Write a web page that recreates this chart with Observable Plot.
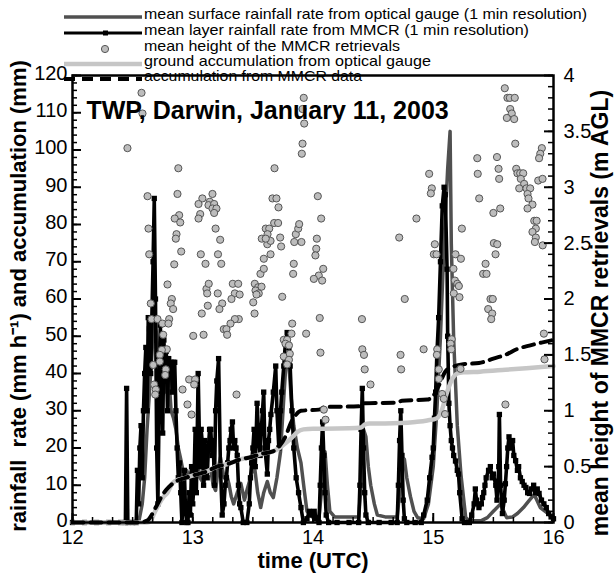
<!DOCTYPE html>
<html><head><meta charset="utf-8">
<script src="https://cdn.jsdelivr.net/npm/d3@7"></script>
<script src="https://cdn.jsdelivr.net/npm/@observablehq/plot@0.6"></script>
<style>
body{margin:0;background:#fff;}
#wrap{position:relative;width:614px;height:576px;overflow:hidden;font-family:"Liberation Sans",Arial,sans-serif;}
#legend{position:absolute;left:0;top:0;z-index:0;}
#chart{position:absolute;left:0;top:0;z-index:1;}
</style></head><body>
<div id="wrap"><svg id="legend" width="614" height="100"></svg><div id="chart"></div></div>
<script>
// ---------- data (time in UTC hours) ----------
const title = "TWP, Darwin, January 11, 2003";
const xLabel = "time (UTC)";
const yLabel = "rainfall  rate (mm h\u207B\u00B9) and accumulation (mm)";
const y2Label = "mean height of MMCR retrievals (m AGL)";
const legendLabels = [
  "mean surface rainfall rate from optical gauge (1 min resolution)",
  "mean layer rainfall rate from MMCR  (1 min resolution)",
  "mean height of the MMCR retrievals",
  "ground accumulation from optical gauge",
  "accumulation from MMCR data"
];
const xTicks = [12, 13, 14, 15, 16];
const yTicks = d3.range(0, 121, 10);
const yMinor = d3.range(0, 121, 2);
const hTicks = [0, 0.5, 1, 1.5, 2, 2.5, 3, 3.5, 4];
const hMinor = d3.range(0, 41, 1).map(d => d / 10);
const xMinor = d3.range(0, 25, 1).map(d => 12 + d / 6);

const mmcrRate = [
[12.00,0],[12.10,0],[12.20,0],[12.30,0],[12.40,0],[12.44,0],[12.45,36],[12.46,0],[12.50,0],[12.53,0],
[12.54,14],[12.55,5],[12.56,20],[12.57,26],[12.58,12],[12.59,30],[12.60,40],[12.61,47],[12.62,30],[12.63,55],
[12.64,52],[12.65,40],[12.66,55],[12.67,70],[12.68,87],[12.69,60],[12.70,20],[12.71,5],[12.72,30],[12.73,53],
[12.74,45],[12.75,24],[12.76,49],[12.77,40],[12.78,46],[12.79,30],[12.80,44],[12.81,40],[12.82,43],[12.83,35],
[12.84,43],[12.85,43],[12.86,30],[12.87,20],[12.88,12],[12.89,16],[12.90,8],[12.91,0],[12.92,5],[12.93,14],
[12.94,3],[12.95,0],[12.96,0],[12.97,8],[12.98,2],[12.99,15],[13.00,5],[13.01,10],[13.02,25],[13.03,8],
[13.045,40],[13.06,15],[13.07,25],[13.08,21],[13.09,10],[13.10,22],[13.11,18],[13.12,12],[13.13,20],[13.14,25],
[13.15,25],[13.16,18],[13.17,22],[13.18,10],[13.19,30],[13.20,38],[13.215,44],[13.23,15],[13.245,2],[13.26,5],
[13.27,10],[13.28,12],[13.29,16],[13.30,20],[13.31,22],[13.32,25],[13.33,27],[13.34,20],[13.35,22],[13.36,20],
[13.37,18],[13.38,10],[13.39,5],[13.40,4],[13.42,0],[13.45,0],[13.47,5],[13.48,12],[13.49,16],[13.50,20],
[13.51,25],[13.52,15],[13.535,32],[13.55,22],[13.56,18],[13.57,25],[13.58,30],[13.59,35],[13.60,20],[13.62,13],
[13.63,22],[13.64,25],[13.65,29],[13.67,35],[13.69,42],[13.70,30],[13.716,20],[13.73,30],[13.74,35],[13.757,42],
[13.77,48],[13.785,51],[13.80,47],[13.81,42],[13.825,30],[13.84,20],[13.86,12],[13.88,8],[13.90,4],[13.92,0],
[13.95,1],[13.97,3],[13.99,2],[14.01,3],[14.03,1],[14.05,0],[14.06,10],[14.07,20],[14.08,27],[14.09,18],
[14.10,8],[14.11,2],[14.13,0],[14.20,0],[14.30,0],[14.38,0],[14.39,10],[14.40,25],[14.41,36],[14.42,20],
[14.43,8],[14.44,2],[14.46,0],[14.55,0],[14.65,0],[14.70,0],[14.71,10],[14.72,22],[14.73,30],[14.74,18],
[14.75,6],[14.76,1],[14.78,0],[14.85,0],[14.90,0],[14.92,2],[14.95,6],[14.97,12],[14.99,17.5],[15.00,20],
[15.01,28],[15.02,35],[15.03,45],[15.045,55],[15.06,70],[15.075,85],[15.09,90],[15.10,88],[15.115,68],[15.12,50],
[15.13,32],[15.14,26],[15.15,22],[15.16,20],[15.17,18],[15.185,16.5],[15.20,14],[15.21,13],[15.22,8],[15.24,1],
[15.26,0],[15.30,0],[15.32,2],[15.34,5],[15.35,9],[15.36,6],[15.38,4],[15.40,5],[15.41,6.7],[15.42,8],
[15.43,10],[15.44,12],[15.46,14],[15.475,15],[15.49,12],[15.50,13],[15.52,10],[15.53,6],[15.545,15],[15.55,29],
[15.56,10],[15.575,2.4],[15.59,6],[15.60,10.4],[15.61,15],[15.62,20],[15.63,23],[15.64,21],[15.65,20],[15.66,22],
[15.67,18],[15.685,16.6],[15.70,14],[15.71,15],[15.725,12],[15.74,11],[15.755,10],[15.77,9.4],[15.785,8],[15.80,7.8],
[15.815,9],[15.835,10],[15.85,8],[15.865,9],[15.88,7.8],[15.90,6],[15.92,5],[15.94,4],[15.96,2.4],[15.98,1.5],[16.00,1]
];

const gaugeRate = [
[12.00,0],[12.55,0],[12.58,5],[12.60,12],[12.62,25],[12.64,35],[12.66,45],[12.68,57],[12.70,50],[12.72,42],
[12.74,48],[12.76,38],[12.78,35],[12.80,40],[12.82,30],[12.84,28],[12.86,25],[12.88,20],[12.90,17],[12.93,12],
[12.95,14],[12.97,12],[13.00,15],[13.02,13],[13.04,16],[13.06,12],[13.09,10.5],[13.12,14],[13.15,14],[13.17,10],
[13.19,8.6],[13.21,14],[13.23,17.5],[13.26,12],[13.28,13],[13.30,10.5],[13.32,7],[13.34,5],[13.37,8],[13.40,10.5],
[13.43,6],[13.45,8.6],[13.48,12],[13.51,16],[13.54,8],[13.565,4],[13.59,8],[13.62,11],[13.645,8],[13.67,6.7],
[13.70,12],[13.73,19],[13.76,35],[13.78,45],[13.80,42],[13.82,33],[13.84,26],[13.87,20],[13.90,16],[13.93,8],
[13.95,3],[14.00,1.3],[14.05,1.5],[14.07,8],[14.10,19],[14.12,10],[14.14,3],[14.18,1.5],[14.30,1.5],[14.38,1.5],
[14.40,10],[14.42,25],[14.44,23],[14.46,15],[14.48,10],[14.51,5],[14.535,2],[14.60,1.5],[14.70,1.5],[14.72,8],
[14.74,15],[14.76,17],[14.78,12],[14.81,7],[14.84,3],[14.87,1.3],[14.92,1],[14.96,5],[15.00,15],[15.03,30],
[15.06,50],[15.09,75],[15.12,95],[15.14,105],[15.15,75],[15.17,49],[15.20,26],[15.23,13],[15.27,1.3],[15.30,0.5],
[15.40,0.5],[15.45,1.3],[15.50,3],[15.56,5],[15.61,1.3],[15.66,1.5],[15.70,2.4],[15.75,4],[15.80,6],[15.84,7.5],
[15.89,4],[15.95,2.5],[16.00,1.5]
];

const gaugeAccum = [
[12.00,0],[12.62,0],[12.65,0.5],[12.68,2.5],[12.72,5],[12.76,7],[12.79,8],[12.83,10.5],[12.88,11.5],[12.94,12],
[13.02,12.8],[13.10,13.5],[13.20,15],[13.30,15.8],[13.40,17],[13.48,17.5],[13.58,18.5],[13.66,19],[13.72,20],[13.78,21.5],
[13.83,23],[13.87,24.3],[13.92,25],[14.00,25.2],[14.10,25.2],[14.30,25.3],[14.40,25.5],[14.43,26.3],[14.47,26.6],[14.60,26.6],
[14.73,26.7],[14.85,27],[14.95,27.4],[15.03,28],[15.07,30],[15.11,34.5],[15.15,38],[15.20,40],[15.25,40.3],[15.39,40.5],
[15.60,41],[15.80,41.5],[16.00,42]
];

const mmcrAccum = [
[12.00,0],[12.55,0],[12.62,0.5],[12.70,4.5],[12.75,7.5],[12.80,9.5],[12.87,11.2],[12.94,12],[13.02,12.8],[13.10,13.5],
[13.20,15],[13.30,15.8],[13.40,17],[13.48,17.5],[13.58,18.5],[13.66,19],[13.72,20.5],[13.77,23],[13.82,27],[13.86,29],
[13.90,30],[14.05,30.3],[14.10,31],[14.40,31.2],[14.43,32],[14.70,32.2],[14.74,32.7],[14.95,33],[15.00,34],[15.05,37],
[15.10,40.5],[15.15,41.6],[15.25,42.5],[15.38,42.8],[15.50,44],[15.60,45],[15.70,46.6],[15.80,47.5],[15.90,48.3],[16.00,49]
];

// mean height of MMCR retrievals [time, km]
const heightPts = [
[12.457,3.35],[12.574,3.845],[12.582,3.66],[12.624,2.92],[12.632,2.63],[12.638,2.40],[12.651,1.96],[12.657,1.82],[12.707,1.82],[12.748,1.78],
[12.804,1.82],[12.798,1.78],[12.754,1.68],[12.784,1.55],[12.743,1.545],[12.726,1.50],[12.671,1.41],[12.726,1.44],[12.776,1.37],[12.771,1.32],
[12.679,1.235],[12.693,1.19],[12.688,1.145],[12.79,2.13],[12.826,2.00],[12.817,1.96],[12.837,1.91],[12.846,2.31],[12.904,2.425],[12.88,3.17],
[12.873,2.94],[12.887,2.75],[12.85,2.72],[12.896,2.685],[12.865,2.58],[12.859,2.54],[12.97,1.28],[13.02,1.28],[13.012,1.235],[12.915,1.19],
[12.956,1.056],[12.99,0.966],[13.004,1.67],[13.067,2.40],[13.075,1.87],[13.106,2.315],[13.114,2.09],[13.133,2.136],[13.12,2.05],[13.125,1.94],
[13.09,1.68],[13.08,2.90],[13.048,2.85],[13.062,2.76],[13.048,2.72],[13.164,2.94],[13.142,2.87],[13.131,2.84],[13.178,2.85],[13.164,2.81],
[13.197,2.81],[13.178,2.77],[13.19,2.63],[13.228,2.53],[13.21,2.40],[13.237,2.315],[13.208,2.05],[13.245,1.96],[13.222,1.91],[13.333,2.136],
[13.378,2.136],[13.35,2.05],[13.39,2.04],[13.322,2.00],[13.383,1.82],[13.35,1.82],[13.314,1.78],[13.258,1.73],[13.28,1.73],[13.286,1.68],
[13.364,1.145],[13.516,2.136],[13.544,2.105],[13.572,2.11],[13.522,2.076],[13.549,2.05],[13.53,2.04],[13.503,1.97],[13.514,1.87],[13.563,2.225],
[13.591,2.27],[13.591,2.36],[13.647,2.40],[13.62,2.49],[13.647,2.52],[13.68,3.17],[13.663,2.90],[13.696,2.90],[13.713,2.82],[13.677,2.68],
[13.71,2.68],[13.607,2.63],[13.636,2.63],[13.622,2.58],[13.574,2.54],[13.607,2.54],[13.727,2.55],[13.735,2.47],[13.744,2.02],[13.857,2.58],
[13.877,2.63],[13.885,2.67],[13.844,2.51],[13.904,2.51],[13.923,3.80],[13.913,3.70],[13.927,3.57],[13.913,3.39],[13.907,3.30],[14.04,2.92],
[14.068,2.72],[14.032,2.54],[14.027,2.45],[14.02,2.39],[13.84,2.315],[13.835,2.225],[14.085,2.27],[14.048,2.21],[14.007,2.18],[14.076,2.165],
[13.827,1.78],[13.821,1.69],[13.943,1.69],[13.757,1.635],[13.785,1.635],[13.771,1.60],[13.8,1.585],[13.757,1.485],[13.807,1.51],[13.8,1.456],
[13.785,1.414],[14.056,1.83],[14.062,1.52],[14.09,1.01],[14.104,0.92],[14.407,1.82],[14.41,1.55],[14.424,1.50],[14.43,1.37],[14.478,1.235],
[14.728,1.50],[14.733,1.37],[14.763,2.00],[14.717,2.55],[14.86,2.72],[14.92,1.55],[14.966,3.12],[14.988,2.99],[14.98,2.945],[15.013,2.49],
[15.005,2.40],[15.027,2.40],[15.033,1.55],[15.03,1.50],[15.046,1.37],[15.046,1.285],[15.074,1.15],[15.088,1.107],[15.098,0.97],[15.185,2.40],
[15.23,2.36],[15.168,2.27],[15.18,2.165],[15.2,2.136],[15.213,2.116],[15.171,2.05],[15.218,2.016],[15.154,1.64],[15.144,1.60],[15.15,1.55],
[15.227,1.375],[15.238,2.63],[15.366,3.26],[15.37,3.12],[15.382,2.90],[15.435,2.315],[15.415,2.225],[15.443,2.225],[15.476,2.00],[15.495,2.00],
[15.457,1.91],[15.49,1.87],[15.482,1.82],[15.50,2.77],[15.557,2.81],[15.53,3.27],[15.543,3.165],[15.548,3.075],[15.504,2.50],[15.532,2.49],
[15.518,2.40],[15.595,3.886],[15.617,3.80],[15.637,3.80],[15.678,3.80],[15.64,3.70],[15.653,3.66],[15.612,3.62],[15.673,3.61],[15.682,3.39],
[15.69,3.165],[15.70,3.125],[15.723,3.125],[15.748,3.125],[15.728,3.075],[15.756,3.03],[15.715,2.99],[15.775,2.99],[15.806,2.99],[15.784,2.94],
[15.792,2.90],[15.825,2.845],[15.784,2.81],[15.84,2.70],[15.86,2.70],[15.853,2.63],[15.825,2.60],[15.853,2.55],[15.903,3.35],[15.89,3.30],
[15.88,3.26],[15.873,3.06],[15.909,3.075],[15.91,2.48],[15.845,2.51],[15.92,1.69],[15.925,1.46],[15.60,1.056]
];

// ---------- layout ----------
const W = 614, H = 576, ML = 72, MR = 61, MT = 75, MB = 54;
const PW = W - ML - MR, PH = H - MT - MB;
const H2Y = 120 / 4; // right axis (km) -> left axis units
const FONT = "'Liberation Sans', Arial, Helvetica, sans-serif";

const X = d => d[0], Y = d => d[1];
const chart = Plot.plot({
  width: W, height: H, marginLeft: ML, marginRight: MR, marginTop: MT, marginBottom: MB,
  x: {domain: [12, 16]}, y: {domain: [0, 120]},
  style: {background: "transparent", fontFamily: FONT, fontSize: "20px", color: "#000", overflow: "visible"},
  marks: [
    Plot.line(gaugeRate, {x: X, y: Y, stroke: "#505050", strokeWidth: 3.5}),
    Plot.line(mmcrRate, {x: X, y: Y, stroke: "#000", strokeWidth: 3.6}),
    Plot.dot(mmcrRate, {x: X, y: Y, symbol: "square", r: 3, fill: "#000"}),
    Plot.line(gaugeAccum, {x: X, y: Y, stroke: "#c6c6c6", strokeWidth: 4.5, curve: "monotone-x"}),
    Plot.line(mmcrAccum, {x: X, y: Y, stroke: "#000", strokeWidth: 4, strokeDasharray: "11,7", curve: "monotone-x"}),
    Plot.dot(heightPts, {x: X, y: d => d[1] * H2Y, r: 3.6, fill: "#bdbdbd", stroke: "#555", strokeWidth: 1}),
    Plot.ruleY(yMinor, {y: d => d, insetRight: PW - 5, strokeWidth: 1.5}),
    Plot.ruleY(yTicks, {y: d => d, insetRight: PW - 9, strokeWidth: 2}),
    Plot.ruleY(hMinor, {y: d => d * H2Y, insetLeft: PW - 5, strokeWidth: 1.5}),
    Plot.ruleY(hTicks, {y: d => d * H2Y, insetLeft: PW - 9, strokeWidth: 2}),
    Plot.ruleX(xMinor, {x: d => d, insetTop: PH - 5, strokeWidth: 1.5}),
    Plot.ruleX(xTicks, {x: d => d, insetTop: PH - 9, strokeWidth: 2}),
    Plot.frame({stroke: "#000", strokeWidth: 2.5}),
    Plot.axisX({ticks: xTicks, tickSize: 0, tickPadding: 7, label: null, tickFormat: d => String(d)}),
    Plot.axisY({ticks: yTicks, tickSize: 0, tickPadding: 5, dy: -2, label: null, tickFormat: d => String(d)}),
    Plot.text(hTicks, {y: d => d * H2Y, text: d => String(d), frameAnchor: "right", textAnchor: "start", dx: 10}),
    Plot.text([xLabel], {text: d => d, frameAnchor: "bottom", dy: 38, lineAnchor: "middle", fontWeight: "bold", fontSize: 22}),
    Plot.text([yLabel], {text: d => d, frameAnchor: "left", textAnchor: "middle", rotate: -90, dx: -54, dy: -3, lineAnchor: "middle", fontWeight: "bold", fontSize: 22}),
    Plot.text([y2Label], {text: d => d, frameAnchor: "right", textAnchor: "middle", rotate: -90, dx: 47, dy: 14, lineAnchor: "middle", fontWeight: "bold", fontSize: 23}),
    Plot.text([title], {text: d => d, frameAnchor: "top-left", dx: 14, dy: 35, textAnchor: "start", lineAnchor: "middle", fontWeight: "bold", fontSize: 25})
  ]
});
document.getElementById("chart").appendChild(chart);

// ---------- legend (top, behind the frame) ----------
const leg = d3.select("#legend");
const rowsY = [14, 30, 46, 61, 76];
const widths = [443, 385, 256, 287, 218];
const lx0 = 64, lx1 = 142, tx = 144;
function hline(y, stroke, sw, dash) {
  leg.append("line").attr("x1", lx0).attr("x2", lx1).attr("y1", y).attr("y2", y)
    .attr("stroke", stroke).attr("stroke-width", sw).attr("stroke-dasharray", dash || null);
}
hline(rowsY[0] + 3, "#505050", 3.5);
hline(rowsY[1] + 3, "#000", 3);
leg.append("rect").attr("x", 103).attr("y", rowsY[1] + 0.5).attr("width", 5).attr("height", 5).attr("fill", "#000");
leg.append("circle").attr("cx", 105).attr("cy", rowsY[2] + 3).attr("r", 3.6).attr("fill", "#bdbdbd").attr("stroke", "#555");
hline(rowsY[3] + 3, "#c6c6c6", 4.5);
hline(rowsY[4] + 3, "#000", 4, "11,7");
legendLabels.forEach((t, i) => {
  leg.append("text").attr("x", tx).attr("y", rowsY[i] + 5)
    .attr("font-family", FONT).attr("font-size", 15)
    .attr("textLength", widths[i]).attr("lengthAdjust", "spacingAndGlyphs")
    .text(t);
});
</script>
</body></html>
